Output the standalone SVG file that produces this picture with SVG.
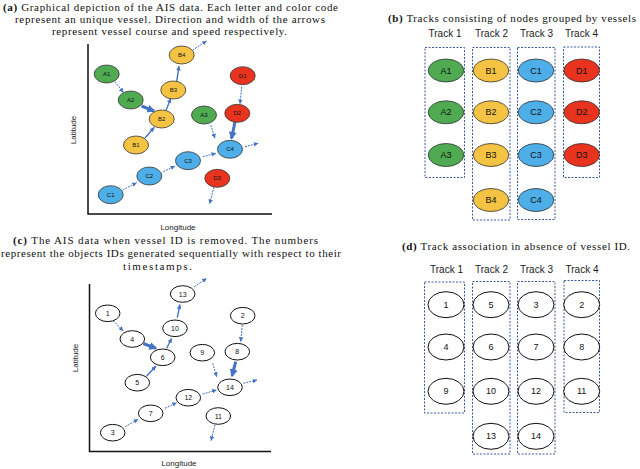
<svg xmlns="http://www.w3.org/2000/svg" width="640" height="469" viewBox="0 0 640 469">
<style>
.cap{font-family:"Liberation Serif","Times New Roman",serif;font-size:11px;fill:#111}
.b{font-weight:bold}
.ax{font-family:"Liberation Sans",Arial,sans-serif;font-size:8px;fill:#222}
.trk{font-family:"Liberation Sans",Arial,sans-serif;font-size:10px;fill:#222}
.lbl{font-family:"Liberation Sans",Arial,sans-serif;text-anchor:middle;dominant-baseline:central;fill:#111}
.s6{font-size:6px}.s7{font-size:7px}.s9{font-size:9px}
.n{stroke:#333;stroke-width:0.8}
.g{fill:#4faa52}.y{fill:#f5c343}.bl{fill:#4eaee8}.r{fill:#e8341f}.w{fill:#fff;stroke:#111;stroke-width:1}
.box{fill:none;stroke:#3a5a9a;stroke-width:1;stroke-dasharray:2 1.5}
.axis{stroke:#111;stroke-width:1.5;fill:none}
.ar{stroke:#4472c4;stroke-width:1;fill:none;stroke-dasharray:2 1;marker-end:url(#hs)}
.am{stroke:#4472c4;stroke-width:1.4;fill:none;marker-end:url(#hs)}
.at{stroke:#4472c4;stroke-width:3;fill:none;marker-end:url(#hl)}
</style>
<defs>
<marker id="hs" viewBox="0 0 6 6" refX="6" refY="3" markerWidth="4.5" markerHeight="4.5" markerUnits="userSpaceOnUse" orient="auto"><path d="M0,0 L6,3 L0,6 z" fill="#4472c4"/></marker>
<marker id="hl" viewBox="0 0 6 6" refX="5" refY="3" markerWidth="8" markerHeight="8" markerUnits="userSpaceOnUse" orient="auto"><path d="M0,0 L6,3 L0,6 z" fill="#4472c4"/></marker>
</defs>
<rect width="640" height="469" fill="#fff"/>

<!-- captions -->
<text class="cap" x="3" y="10.5" textLength="335"><tspan class="b">(a)</tspan> Graphical depiction of the AIS data. Each letter and color code</text>
<text class="cap" x="15" y="22.8" textLength="310">represent an unique vessel. Direction and width of the arrows</text>
<text class="cap" x="52" y="35" textLength="235">represent vessel course and speed respectively.</text>
<text class="cap" x="388" y="22" textLength="248"><tspan class="b">(b)</tspan> Tracks consisting of nodes grouped by vessels</text>
<text class="cap" x="13" y="244" textLength="305"><tspan class="b">(c)</tspan> The AIS data when vessel ID is removed. The numbers</text>
<text class="cap" x="1" y="257" textLength="340">represent the objects IDs generated sequentially with respect to their</text>
<text class="cap" x="123" y="270" textLength="69">timestamps.</text>
<text class="cap" x="402" y="250" textLength="228"><tspan class="b">(d)</tspan> Track association in absence of vessel ID.</text>

<!-- axes -->
<g id="axes-a">
<path class="axis" d="M88,44 V214 H272"/>
<text class="ax" x="178" y="230" text-anchor="middle">Longitude</text>
<text class="ax" transform="translate(76,130) rotate(-90)" text-anchor="middle">Latitude</text>
</g>
<g id="axes-c">
<path class="axis" d="M89.5,284 V451.5 H271"/>
<text class="ax" x="179" y="466" text-anchor="middle">Longitude</text>
<text class="ax" transform="translate(78,358) rotate(-90)" text-anchor="middle">Latitude</text>
</g>

<!-- track labels & boxes -->
<g id="tracks-b">
<text class="trk" x="445" y="37" text-anchor="middle">Track 1</text>
<text class="trk" x="491.5" y="37" text-anchor="middle">Track 2</text>
<text class="trk" x="536.5" y="37" text-anchor="middle">Track 3</text>
<text class="trk" x="581.5" y="37" text-anchor="middle">Track 4</text>
<rect class="box" x="425" y="47.5" width="39.5" height="130"/>
<rect class="box" x="472.5" y="47.5" width="37.5" height="172.5"/>
<rect class="box" x="517.5" y="47.5" width="37.5" height="172"/>
<rect class="box" x="563.5" y="47" width="36" height="130.5"/>
</g>
<g id="tracks-d">
<text class="trk" x="446.5" y="272.5" text-anchor="middle">Track 1</text>
<text class="trk" x="491.5" y="272.5" text-anchor="middle">Track 2</text>
<text class="trk" x="536.5" y="272.5" text-anchor="middle">Track 3</text>
<text class="trk" x="582" y="272.5" text-anchor="middle">Track 4</text>
<rect class="box" x="424.5" y="282" width="40" height="131"/>
<rect class="box" x="472.5" y="281.5" width="37.5" height="172.5"/>
<rect class="box" x="517.5" y="281.5" width="37.5" height="172.5"/>
<rect class="box" x="564" y="280.5" width="35.5" height="132"/>
</g>

<!-- connectors -->
<g id="connectors">
<line class="ar" x1="115" y1="81.7" x2="123.5" y2="92.5"/>
<line class="at" x1="141.5" y1="106" x2="154" y2="111"/>
<line class="am" x1="145" y1="138" x2="154.3" y2="127.3"/>
<line class="am" x1="166" y1="110.5" x2="170.7" y2="98.5"/>
<line class="am" x1="176.7" y1="81.7" x2="179" y2="66"/>
<line class="ar" x1="192.7" y1="50" x2="206.7" y2="41"/>
<line class="ar" x1="241.7" y1="86.7" x2="240" y2="104"/>
<line class="at" x1="235" y1="122" x2="231.5" y2="138.5"/>
<line class="ar" x1="210.7" y1="125" x2="215" y2="138.3"/>
<line class="ar" x1="245" y1="146.7" x2="258.3" y2="143.3"/>
<line class="ar" x1="202.7" y1="156.7" x2="216" y2="153.3"/>
<line class="ar" x1="163.3" y1="171.7" x2="175" y2="166"/>
<line class="ar" x1="122.7" y1="190" x2="136.7" y2="182.7"/>
<line class="ar" x1="214" y1="187" x2="209.5" y2="204"/>

<line class="ar" x1="113.3" y1="320.7" x2="123.3" y2="331"/>
<line class="at" x1="143.3" y1="343.5" x2="156" y2="348.3"/>
<line class="am" x1="146.7" y1="376" x2="156" y2="366"/>
<line class="am" x1="166.7" y1="348.3" x2="171.7" y2="338.3"/>
<line class="am" x1="177.3" y1="317.7" x2="180" y2="304.5"/>
<line class="ar" x1="194.3" y1="286.7" x2="206.7" y2="278.3"/>
<line class="ar" x1="242.3" y1="325" x2="240.7" y2="341.7"/>
<line class="at" x1="235.7" y1="361.7" x2="232" y2="376"/>
<line class="ar" x1="212.7" y1="363.3" x2="216.7" y2="376.7"/>
<line class="ar" x1="243.3" y1="383.3" x2="257.3" y2="380"/>
<line class="ar" x1="202.7" y1="394" x2="216.7" y2="390"/>
<line class="ar" x1="165" y1="408.3" x2="176.7" y2="402.7"/>
<line class="ar" x1="125" y1="426.7" x2="138.3" y2="419.3"/>
<line class="ar" x1="215" y1="425" x2="211" y2="440.7"/>
</g>

<!-- panel (a) nodes -->
<g id="a-A1"><ellipse class="n g" cx="106.7" cy="74" rx="12.5" ry="9"/><text class="lbl s6" x="106.7" y="74">A1</text></g>
<g id="a-A2"><ellipse class="n g" cx="130.7" cy="100" rx="12.5" ry="9"/><text class="lbl s6" x="130.7" y="100">A2</text></g>
<g id="a-A3"><ellipse class="n g" cx="204" cy="115" rx="12.5" ry="9"/><text class="lbl s6" x="204" y="115">A3</text></g>
<g id="a-B1"><ellipse class="n y" cx="136" cy="145" rx="12.5" ry="9"/><text class="lbl s6" x="136" y="145">B1</text></g>
<g id="a-B2"><ellipse class="n y" cx="161.7" cy="119" rx="12.5" ry="9"/><text class="lbl s6" x="161.7" y="119">B2</text></g>
<g id="a-B3"><ellipse class="n y" cx="173.3" cy="90" rx="12.5" ry="9"/><text class="lbl s6" x="173.3" y="90">B3</text></g>
<g id="a-B4"><ellipse class="n y" cx="181.7" cy="55" rx="12.5" ry="9"/><text class="lbl s6" x="181.7" y="55">B4</text></g>
<g id="a-C1"><ellipse class="n bl" cx="110.7" cy="194.7" rx="12.5" ry="9"/><text class="lbl s6" x="110.7" y="194.7">C1</text></g>
<g id="a-C2"><ellipse class="n bl" cx="149.3" cy="176" rx="12.5" ry="9"/><text class="lbl s6" x="149.3" y="176">C2</text></g>
<g id="a-C3"><ellipse class="n bl" cx="188" cy="160.7" rx="12.5" ry="9"/><text class="lbl s6" x="188" y="160.7">C3</text></g>
<g id="a-C4"><ellipse class="n bl" cx="230" cy="149.3" rx="12.5" ry="9"/><text class="lbl s6" x="230" y="149.3">C4</text></g>
<g id="a-D1"><ellipse class="n r" cx="242.7" cy="75.7" rx="12.5" ry="9"/><text class="lbl s6" x="242.7" y="75.7">D1</text></g>
<g id="a-D2"><ellipse class="n r" cx="237.3" cy="113.3" rx="12.5" ry="9"/><text class="lbl s6" x="237.3" y="113.3">D2</text></g>
<g id="a-D3"><ellipse class="n r" cx="217.3" cy="178.3" rx="12.5" ry="9"/><text class="lbl s6" x="217.3" y="178.3">D3</text></g>

<!-- panel (b) nodes -->
<g id="b-A1"><ellipse class="n g" cx="446" cy="70.5" rx="17.8" ry="11.5"/><text class="lbl s9" x="446" y="70.5">A1</text></g>
<g id="b-A2"><ellipse class="n g" cx="446" cy="112.3" rx="17.8" ry="11.5"/><text class="lbl s9" x="446" y="112.3">A2</text></g>
<g id="b-A3"><ellipse class="n g" cx="446" cy="155" rx="17.8" ry="11.5"/><text class="lbl s9" x="446" y="155">A3</text></g>
<g id="b-B1"><ellipse class="n y" cx="491" cy="70.5" rx="17.8" ry="11.5"/><text class="lbl s9" x="491" y="70.5">B1</text></g>
<g id="b-B2"><ellipse class="n y" cx="491" cy="112.3" rx="17.8" ry="11.5"/><text class="lbl s9" x="491" y="112.3">B2</text></g>
<g id="b-B3"><ellipse class="n y" cx="491" cy="155" rx="17.8" ry="11.5"/><text class="lbl s9" x="491" y="155">B3</text></g>
<g id="b-B4"><ellipse class="n y" cx="491" cy="200" rx="17.8" ry="11.5"/><text class="lbl s9" x="491" y="200">B4</text></g>
<g id="b-C1"><ellipse class="n bl" cx="536" cy="70.5" rx="17.8" ry="11.5"/><text class="lbl s9" x="536" y="70.5">C1</text></g>
<g id="b-C2"><ellipse class="n bl" cx="536" cy="112.3" rx="17.8" ry="11.5"/><text class="lbl s9" x="536" y="112.3">C2</text></g>
<g id="b-C3"><ellipse class="n bl" cx="536" cy="155" rx="17.8" ry="11.5"/><text class="lbl s9" x="536" y="155">C3</text></g>
<g id="b-C4"><ellipse class="n bl" cx="536" cy="200" rx="17.8" ry="11.5"/><text class="lbl s9" x="536" y="200">C4</text></g>
<g id="b-D1"><ellipse class="n r" cx="581.7" cy="70.5" rx="17.8" ry="11.5"/><text class="lbl s9" x="581.7" y="70.5">D1</text></g>
<g id="b-D2"><ellipse class="n r" cx="581.7" cy="112.3" rx="17.8" ry="11.5"/><text class="lbl s9" x="581.7" y="112.3">D2</text></g>
<g id="b-D3"><ellipse class="n r" cx="581.7" cy="155" rx="17.8" ry="11.5"/><text class="lbl s9" x="581.7" y="155">D3</text></g>

<!-- panel (c) nodes -->
<g id="c-1"><ellipse class="w" cx="107.7" cy="313.3" rx="12.3" ry="8.3"/><text class="lbl s7" x="107.7" y="313.3">1</text></g>
<g id="c-2"><ellipse class="w" cx="242.7" cy="315.7" rx="12.3" ry="8.3"/><text class="lbl s7" x="242.7" y="315.7">2</text></g>
<g id="c-3"><ellipse class="w" cx="112.7" cy="432.7" rx="12.3" ry="8.3"/><text class="lbl s7" x="112.7" y="432.7">3</text></g>
<g id="c-4"><ellipse class="w" cx="132.3" cy="339" rx="12.3" ry="8.3"/><text class="lbl s7" x="132.3" y="339">4</text></g>
<g id="c-5"><ellipse class="w" cx="137.3" cy="382.7" rx="12.3" ry="8.3"/><text class="lbl s7" x="137.3" y="382.7">5</text></g>
<g id="c-6"><ellipse class="w" cx="162.7" cy="357.3" rx="12.3" ry="8.3"/><text class="lbl s7" x="162.7" y="357.3">6</text></g>
<g id="c-7"><ellipse class="w" cx="150.7" cy="413.3" rx="12.3" ry="8.3"/><text class="lbl s7" x="150.7" y="413.3">7</text></g>
<g id="c-8"><ellipse class="w" cx="237.3" cy="351.7" rx="12.3" ry="8.3"/><text class="lbl s7" x="237.3" y="351.7">8</text></g>
<g id="c-9"><ellipse class="w" cx="202.3" cy="352.7" rx="12.3" ry="8.3"/><text class="lbl s7" x="202.3" y="352.7">9</text></g>
<g id="c-10"><ellipse class="w" cx="175" cy="328.3" rx="12.3" ry="8.3"/><text class="lbl s7" x="175" y="328.3">10</text></g>
<g id="c-11"><ellipse class="w" cx="218.3" cy="416" rx="12.3" ry="8.3"/><text class="lbl s7" x="218.3" y="416">11</text></g>
<g id="c-12"><ellipse class="w" cx="188.3" cy="397.7" rx="12.3" ry="8.3"/><text class="lbl s7" x="188.3" y="397.7">12</text></g>
<g id="c-13"><ellipse class="w" cx="182.7" cy="294" rx="12.3" ry="8.3"/><text class="lbl s7" x="182.7" y="294">13</text></g>
<g id="c-14"><ellipse class="w" cx="230" cy="387.3" rx="12.3" ry="8.3"/><text class="lbl s7" x="230" y="387.3">14</text></g>

<!-- panel (d) nodes -->
<g id="d-1"><ellipse class="w" cx="446" cy="304.7" rx="18" ry="13"/><text class="lbl s9" x="446" y="304.7">1</text></g>
<g id="d-4"><ellipse class="w" cx="446" cy="347" rx="18" ry="13"/><text class="lbl s9" x="446" y="347">4</text></g>
<g id="d-9"><ellipse class="w" cx="446" cy="391.3" rx="18" ry="13"/><text class="lbl s9" x="446" y="391.3">9</text></g>
<g id="d-5"><ellipse class="w" cx="491" cy="304.7" rx="18" ry="13"/><text class="lbl s9" x="491" y="304.7">5</text></g>
<g id="d-6"><ellipse class="w" cx="491" cy="347" rx="18" ry="13"/><text class="lbl s9" x="491" y="347">6</text></g>
<g id="d-10"><ellipse class="w" cx="491" cy="391.3" rx="18" ry="13"/><text class="lbl s9" x="491" y="391.3">10</text></g>
<g id="d-13"><ellipse class="w" cx="491" cy="436.3" rx="18" ry="13"/><text class="lbl s9" x="491" y="436.3">13</text></g>
<g id="d-3"><ellipse class="w" cx="536" cy="304.7" rx="18" ry="13"/><text class="lbl s9" x="536" y="304.7">3</text></g>
<g id="d-7"><ellipse class="w" cx="536" cy="347" rx="18" ry="13"/><text class="lbl s9" x="536" y="347">7</text></g>
<g id="d-12"><ellipse class="w" cx="536" cy="391.3" rx="18" ry="13"/><text class="lbl s9" x="536" y="391.3">12</text></g>
<g id="d-14"><ellipse class="w" cx="536" cy="436.3" rx="18" ry="13"/><text class="lbl s9" x="536" y="436.3">14</text></g>
<g id="d-2"><ellipse class="w" cx="581.7" cy="304.7" rx="18" ry="13"/><text class="lbl s9" x="581.7" y="304.7">2</text></g>
<g id="d-8"><ellipse class="w" cx="581.7" cy="347" rx="18" ry="13"/><text class="lbl s9" x="581.7" y="347">8</text></g>
<g id="d-11"><ellipse class="w" cx="581.7" cy="391.3" rx="18" ry="13"/><text class="lbl s9" x="581.7" y="391.3">11</text></g>
</svg>
